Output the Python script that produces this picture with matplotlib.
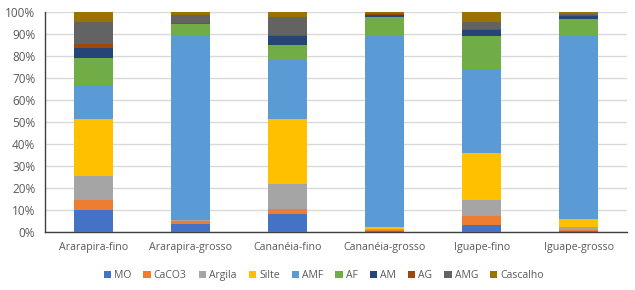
import matplotlib
matplotlib.use("Agg")
import matplotlib.pyplot as plt
import numpy as np

categories = ["Ararapira-fino", "Ararapira-grosso", "Cananéia-fino", "Cananéia-grosso", "Iguape-fino", "Iguape-grosso"]
series_names = ["MO", "CaCO3", "Argila", "Silte", "AMF", "AF", "AM", "AG", "AMG", "Cascalho"]
MO       = [10.1, 3.8, 8.3, 0.5, 3.0, 0.3]
CaCO3    = [4.5, 1.0, 2.3, 0.5, 4.4, 0.5]
Argila   = [11.0, 0.5, 11.2, 0.5, 7.3, 1.4]
Silte    = [25.7, 0.2, 29.6, 0.9, 21.4, 3.5]
AMF      = [15.4, 84.0, 26.9, 86.6, 38.1, 84.0]
AF       = [12.4, 5.0, 6.8, 8.7, 14.8, 7.0]
AM       = [4.5, 0.3, 3.9, 0.9, 2.9, 1.5]
AG       = [1.7, 0.2, 0.5, 0.3, 0.6, 0.5]
AMG      = [10.1, 3.9, 8.3, 0.6, 3.0, 0.3]
Cascalho = [4.5, 1.2, 2.3, 0.5, 4.5, 1.0]
data = [MO, CaCO3, Argila, Silte, AMF, AF, AM, AG, AMG, Cascalho]
colors = ["#4472C4", "#ED7D31", "#A5A5A5", "#FFC000", "#5B9BD5", "#70AD47",
          "#264478", "#9E480E", "#636363", "#997300"]

plt.rcParams['font.family'] = ['Open Sans', 'DejaVu Sans']
fig = plt.figure(figsize=(6.35, 2.9), dpi=100)
ax = fig.add_axes([0.0709, 0.2, 0.917, 0.7586])

arr = np.array(data, dtype=float)
totals = arr.sum(axis=0)
pct = arr / totals * 100
x = np.arange(len(categories))
bottom = np.zeros(len(categories))
for name, vals, c in zip(series_names, pct, colors):
    ax.bar(x, vals, bottom=bottom, width=0.4, color=c, label=name, zorder=3)
    bottom += vals

ax.set_xlim(-0.5, len(categories) - 0.5)
ax.set_ylim(0, 100)
ax.set_yticks(np.arange(0, 101, 10))
ax.set_yticklabels([f"{v}%" for v in range(0, 101, 10)])
ax.set_xticks(x)
ax.set_xticklabels(categories)
ax.grid(axis='y', color='#D9D9D9', linewidth=1, zorder=0)
for s in ['top', 'right']:
    ax.spines[s].set_visible(False)
for s in ['bottom', 'left']:
    ax.spines[s].set_color('#404040')
    ax.spines[s].set_linewidth(1)
ax.tick_params(axis='x', length=0, labelsize=7.7, colors='#595959', pad=7)
ax.tick_params(axis='y', length=0, labelsize=8.5, colors='#595959', pad=7)

handles, labels = ax.get_legend_handles_labels()
fig.legend(handles, labels, loc='center', bbox_to_anchor=(0.51, 0.05), ncol=10,
           frameon=False, fontsize=7.5, handlelength=0.7, handleheight=0.7,
           handletextpad=0.3, columnspacing=1.15, labelcolor='#595959')

fig.savefig("out.png", dpi=100)
